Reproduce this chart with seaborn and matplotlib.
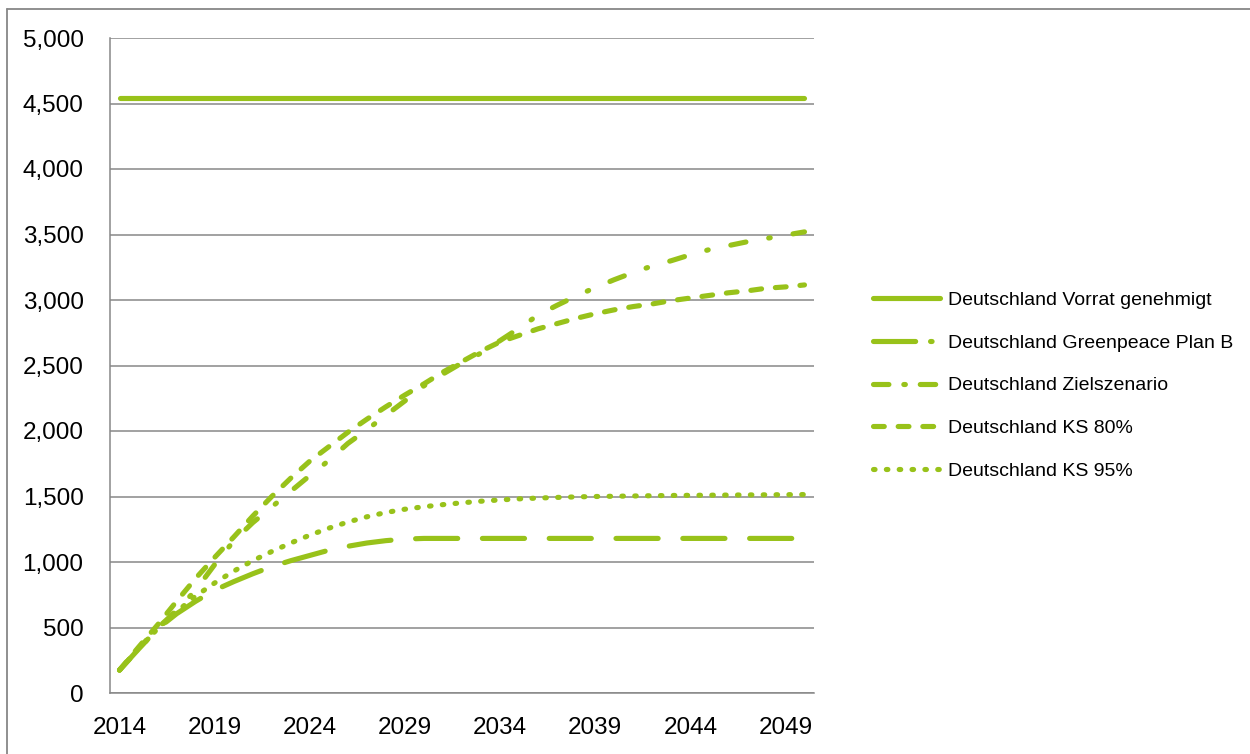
import numpy as np
import pandas as pd
import matplotlib
matplotlib.use("Agg")
import matplotlib.pyplot as plt
from matplotlib.lines import Line2D
from matplotlib.ticker import FuncFormatter
import seaborn as sns

years = list(range(2014, 2051))

vorrat = [4540, 4540, 4540, 4540, 4540, 4540, 4540, 4540, 4540, 4540,
          4540, 4540, 4540, 4540, 4540, 4540, 4540, 4540, 4540, 4540,
          4540, 4540, 4540, 4540, 4540, 4540, 4540, 4540, 4540, 4540,
          4540, 4540, 4540, 4540, 4540, 4540, 4540]
plan_b = [175, 335, 490, 605, 700, 785, 850, 910, 965, 1010,
          1050, 1090, 1120, 1145, 1163, 1175, 1180, 1180, 1180, 1180,
          1180, 1180, 1180, 1180, 1180, 1180, 1180, 1180, 1180, 1180,
          1180, 1180, 1180, 1180, 1180, 1180, 1180]
ziel = [175, 335, 495, 630, 785, 980, 1160, 1300, 1420, 1540,
        1660, 1775, 1905, 2010, 2120, 2230, 2345, 2435, 2520, 2595,
        2690, 2785, 2885, 2960, 3030, 3095, 3155, 3210, 3260, 3300,
        3345, 3385, 3415, 3445, 3470, 3495, 3520]
ks80 = [175, 350, 520, 700, 875, 1035, 1190, 1350, 1500, 1640,
        1770, 1880, 1990, 2090, 2185, 2275, 2360, 2450, 2530, 2610,
        2680, 2730, 2780, 2820, 2860, 2895, 2925, 2950, 2970, 2995,
        3015, 3035, 3055, 3070, 3090, 3100, 3115]
ks95 = [175, 340, 490, 620, 740, 840, 930, 1010, 1080, 1145,
        1205, 1258, 1305, 1345, 1378, 1403, 1422, 1438, 1452, 1464,
        1474, 1482, 1488, 1493, 1497, 1500, 1502, 1504, 1506, 1508,
        1509, 1510, 1511, 1512, 1513, 1514, 1515]

labels = ["Deutschland Vorrat genehmigt", "Deutschland Greenpeace Plan B",
          "Deutschland Zielszenario", "Deutschland KS 80%", "Deutschland KS 95%"]
series = [vorrat, plan_b, ziel, ks80, ks95]

green = "#98C21A"
grey = "#878787"
lw = 3.7
styles = ["-", (0, (8.2, 4.8)), (0, (3.0, 4.5, 0.3, 4.5)), (0, (2.1, 2.7)), (0, (0.3, 2.2))]
legend_styles = ["-", (0, (8.2, 2.9, 0.3, 2.9)), (0, (3.0, 2.9, 0.3, 2.9)),
                 (0, (2.1, 2.7)), (0, (0.3, 2.2))]

sns.set_style("white")
plt.rcParams["font.family"] = ["Liberation Sans", "DejaVu Sans"]
plt.rcParams["text.color"] = "black"
plt.rcParams["xtick.labelcolor"] = "black"
plt.rcParams["ytick.labelcolor"] = "black"

fig = plt.figure(figsize=(12.5, 7.54), dpi=100)
ax = fig.add_axes([110 / 1250, 1 - 693 / 754, (814 - 110) / 1250, (693 - 38) / 754])

for vals, lab, ls in zip(series, labels, styles):
    df = pd.DataFrame({"year": years, "value": vals})
    sns.lineplot(data=df, x="year", y="value", ax=ax, color=green, linewidth=lw,
                 linestyle=ls, dash_capstyle="round", solid_capstyle="round",
                 label=lab, legend=False)

ax.set_xlim(2013.5, 2050.5)
ax.set_ylim(0, 5000)
ax.set_yticks(np.arange(0, 5001, 500))
ax.yaxis.set_major_formatter(FuncFormatter(lambda v, p: f"{int(v):,}"))
ax.yaxis.grid(True, color=grey, linewidth=1.1)
ax.xaxis.grid(False)

ax.set_xticks(np.arange(2013.5, 2051, 1))
ax.set_xticklabels([])
ax.set_xticks(years[::5], minor=True)
ax.set_xticklabels([str(y) for y in years[::5]], minor=True)
ax.tick_params(axis="x", which="major", length=6, width=1.1, color=grey, direction="out")
ax.tick_params(axis="x", which="minor", length=0, pad=17, labelsize=17.5, labelcolor="black")
ax.tick_params(axis="y", length=7, width=1.1, color=grey, direction="out", pad=12,
               labelsize=17.5, labelcolor="black")
ax.set_xlabel("")
ax.set_ylabel("")

for side in ["top", "right"]:
    ax.spines[side].set_visible(False)
for side in ["left", "bottom"]:
    ax.spines[side].set_color(grey)
    ax.spines[side].set_linewidth(1.1)

handles = [Line2D([0], [0], color=green, linewidth=lw, linestyle=ls,
                  dash_capstyle="round", solid_capstyle="round")
           for ls in legend_styles]
fig.legend(handles, labels, loc="upper left", bbox_to_anchor=(873 / 1250, 1 - 291 / 754),
           frameon=False, fontsize=14, handlelength=3.45, handletextpad=0.4,
           labelspacing=1.3, borderpad=0, borderaxespad=0, labelcolor="black")

# outer chart border (top and left visible)
fig.add_artist(Line2D([7 / 1250, 1], [1 - 9 / 754, 1 - 9 / 754], color=grey, linewidth=1.3,
                      transform=fig.transFigure))
fig.add_artist(Line2D([7 / 1250, 7 / 1250], [0, 1 - 9 / 754], color=grey, linewidth=1.3,
                      transform=fig.transFigure))

fig.savefig("out.png", dpi=100)
plt.close(fig)
